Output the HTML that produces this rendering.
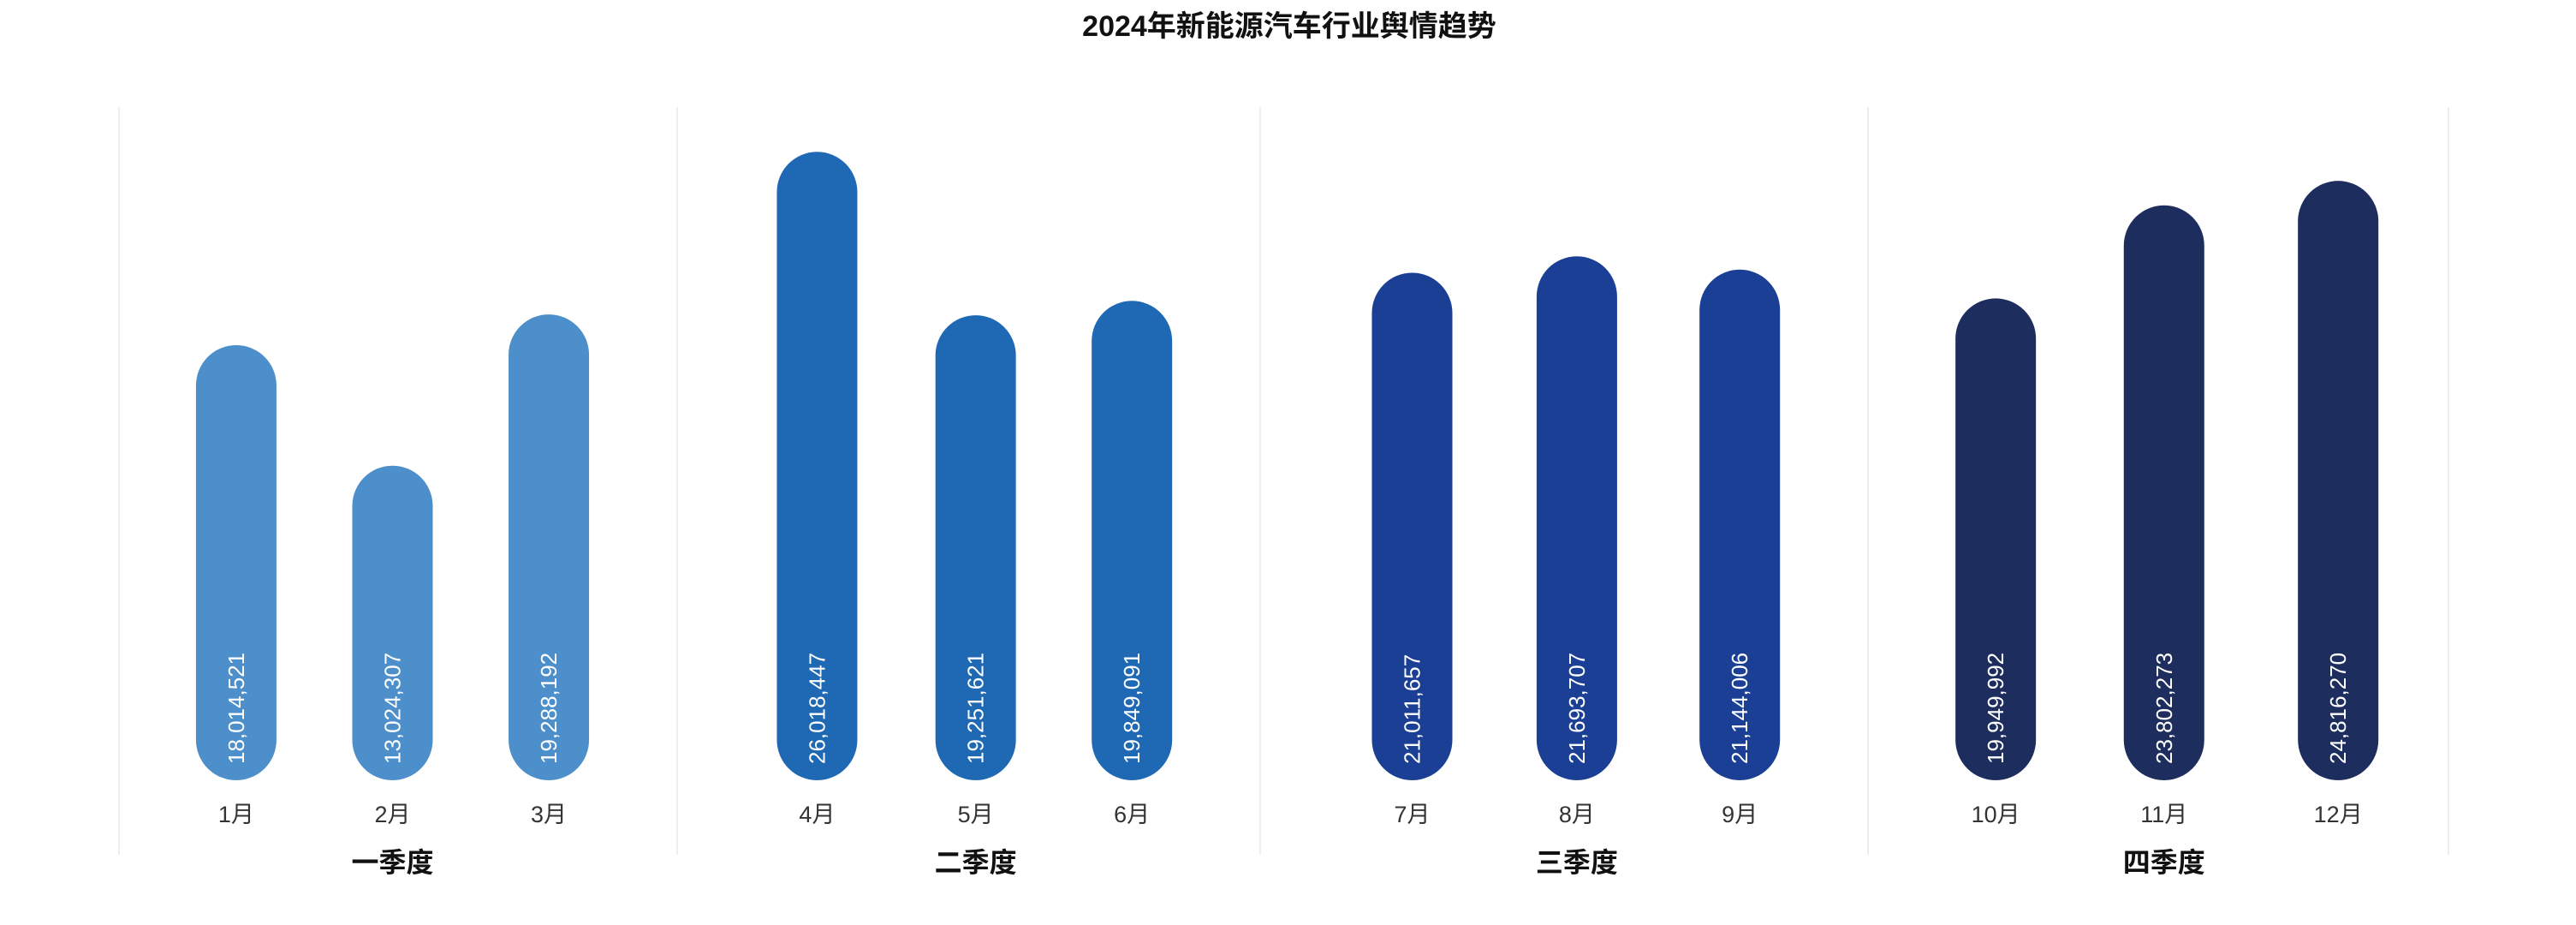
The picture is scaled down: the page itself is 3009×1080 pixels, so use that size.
<!DOCTYPE html>
<html><head><meta charset="utf-8"><style>
html,body{margin:0;padding:0;background:#fff;}
svg{display:block;font-family:"Liberation Sans","Noto Sans CJK SC",sans-serif;}
</style></head><body>
<svg id="chart" width="3009" height="1080" viewBox="0 0 3009 1080">
<text x="1506" y="42" text-anchor="middle" font-size="34" font-weight="bold" fill="#111">2024年新能源汽车行业舆情趋势</text>
<g id="grid"></g><g id="bars"></g><g id="labels"></g>
</svg>
<script>
const months = ["1月","2月","3月","4月","5月","6月","7月","8月","9月","10月","11月","12月"];
const values = [18014521,13024307,19288192,26018447,19251621,19849091,21011657,21693707,21144006,19949992,23802273,24816270];
const valueLabels = ["18,014,521","13,024,307","19,288,192","26,018,447","19,251,621","19,849,091","21,011,657","21,693,707","21,144,006","19,949,992","23,802,273","24,816,270"];
const quarters = ["一季度","二季度","三季度","四季度"];
const quarterColors = ["#4d8fca","#1f69b4","#1a3f94","#1c2d5e"];

const NS="http://www.w3.org/2000/svg";
const baseY=911, pxPerUnit=28.2/1e6, barW=94;
const dividers=[139,791,1472,2182,2860];
const inner=[[0.21,0.49,0.77],[0.24,0.512,0.78],[0.25,0.521,0.789],[0.22,0.51,0.81]];
function xOf(i){const q=Math.floor(i/3);const a=dividers[q],b=dividers[q+1];return a+(b-a)*inner[q][i%3];}
function yOf(v){return baseY-v*pxPerUnit;}
function mk(t,attrs,parent){const e=document.createElementNS(NS,t);for(const k in attrs)e.setAttribute(k,attrs[k]);parent.appendChild(e);return e;}
const grid=document.getElementById('grid'),bars=document.getElementById('bars'),labels=document.getElementById('labels');
dividers.forEach(x=>{
  const l=mk('line',{x1:x,x2:x,y1:125,y2:998,stroke:'#eeeeee','stroke-width':2},grid);
  
  
});
values.forEach((v,i)=>{
  const cx=xOf(i),top=yOf(v),q=Math.floor(i/3);
  const r=mk('rect',{x:cx-barW/2,y:top,width:barW,height:baseY-top,rx:barW/2,ry:barW/2,fill:quarterColors[q]},bars);
  
  
  const t=mk('text',{x:0,y:0,transform:`translate(${cx+9},892) rotate(-90)`,'font-size':26,fill:'#fff'},labels);
  t.textContent=valueLabels[i];
  
  
  const m=mk('text',{x:cx,y:960,'text-anchor':'middle','font-size':27,fill:'#333'},labels);
  m.textContent=months[i];
  
  
});
quarters.forEach((qn,q)=>{
  const cx=xOf(q*3+1);
  const t=mk('text',{x:cx,y:1018,'text-anchor':'middle','font-size':32,'font-weight':'bold',fill:'#111'},labels);
  t.textContent=qn;
  
  
});
</script>
</body></html>
